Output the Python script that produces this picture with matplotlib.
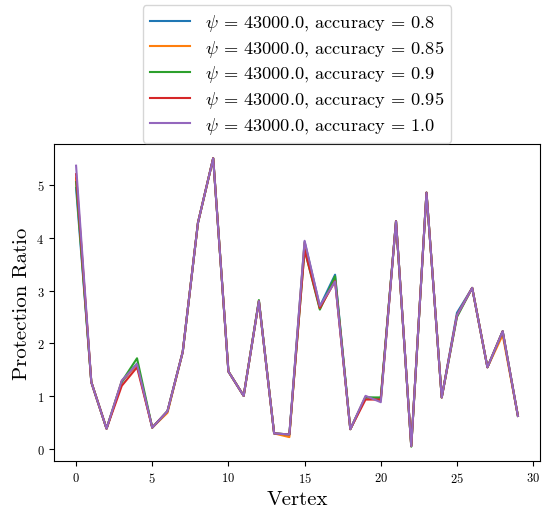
import matplotlib
matplotlib.use('Agg')
import matplotlib.pyplot as plt
import numpy as np

plt.rcParams['font.family'] = 'cmr10'
plt.rcParams['mathtext.fontset'] = 'cm'
plt.rcParams['axes.formatter.use_mathtext'] = True

psi = 43000.0
accuracies = [0.8, 0.85, 0.9, 0.95, 1.0]

# protection ratio per vertex, one list per accuracy level
ratio_080 = [4.94, 1.27, 0.39, 1.27, 1.62, 0.41, 0.72, 1.84, 4.28, 5.50,
             1.47, 1.01, 2.80, 0.30, 0.28, 3.92, 2.70, 3.30, 0.38, 0.98,
             0.96, 4.31, 0.06, 4.85, 0.98, 2.58, 3.05, 1.55, 2.23, 0.63]
ratio_085 = [5.12, 1.27, 0.39, 1.29, 1.60, 0.41, 0.69, 1.84, 4.28, 5.50,
             1.47, 1.01, 2.80, 0.30, 0.23, 3.90, 2.66, 3.20, 0.38, 0.99,
             0.92, 4.31, 0.06, 4.85, 0.98, 2.53, 3.05, 1.55, 2.16, 0.63]
ratio_090 = [5.05, 1.27, 0.39, 1.28, 1.72, 0.41, 0.72, 1.84, 4.28, 5.50,
             1.47, 1.01, 2.82, 0.30, 0.28, 3.77, 2.64, 3.27, 0.38, 0.98,
             0.98, 4.31, 0.05, 4.85, 0.98, 2.50, 3.05, 1.55, 2.23, 0.63]
ratio_095 = [5.20, 1.27, 0.39, 1.20, 1.55, 0.41, 0.72, 1.84, 4.28, 5.50,
             1.47, 1.01, 2.80, 0.30, 0.28, 3.77, 2.67, 3.18, 0.38, 0.94,
             0.94, 4.31, 0.06, 4.85, 0.98, 2.53, 3.05, 1.55, 2.23, 0.63]
ratio_100 = [5.36, 1.27, 0.39, 1.30, 1.61, 0.41, 0.72, 1.84, 4.28, 5.50,
             1.47, 1.01, 2.80, 0.30, 0.28, 3.94, 2.71, 3.17, 0.38, 1.01,
             0.89, 4.31, 0.06, 4.85, 0.98, 2.53, 3.05, 1.55, 2.23, 0.63]

ratios = [ratio_080, ratio_085, ratio_090, ratio_095, ratio_100]
vertices = np.arange(len(ratio_100))

fig = plt.figure(figsize=(5.42, 5.10), dpi=100)
ax = fig.add_axes([0.0996, 0.094, 0.8967, 0.622])

for acc, r in zip(accuracies, ratios):
    ax.plot(vertices, r, label=r'$\psi$ = %.1f, accuracy = %s' % (psi, acc))

ax.set_xlabel('Vertex', fontsize=15)
ax.set_ylabel('Protection Ratio', fontsize=15)
ax.tick_params(labelsize=9)
ax.set_xticks([0, 5, 10, 15, 20, 25, 30])

ax.legend(loc='lower center', bbox_to_anchor=(0.5, 1.0), fontsize=13.2,
          labelspacing=0.25, handlelength=2.2, borderaxespad=0.05)

fig.savefig('out.png', dpi=100)
